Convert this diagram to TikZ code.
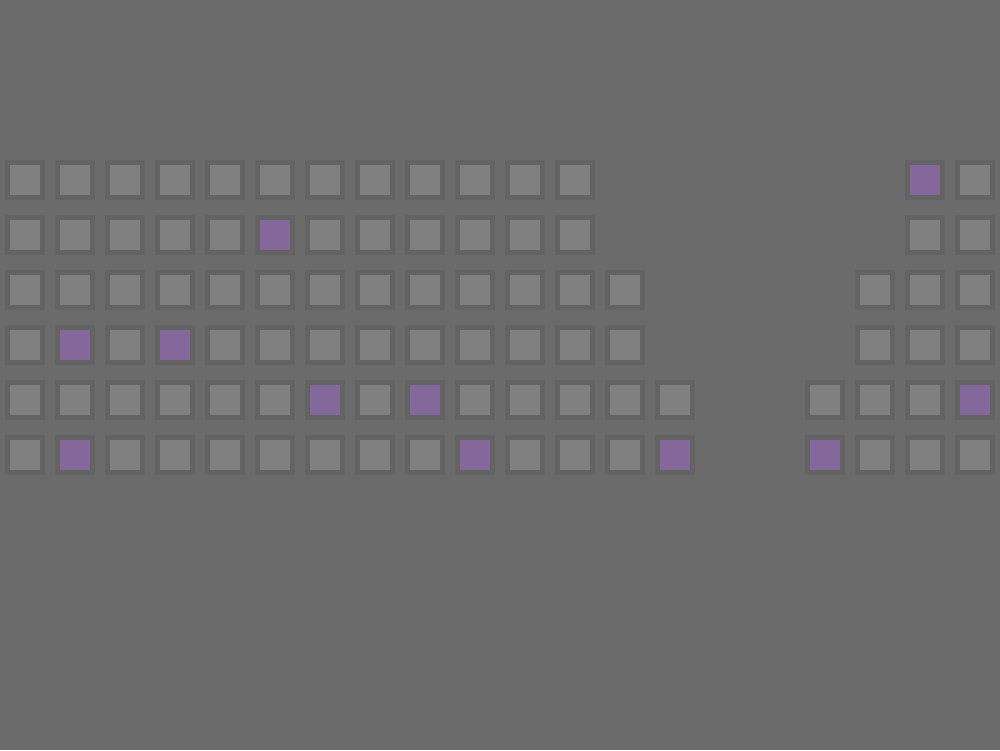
\documentclass[tikz,border=0pt]{standalone}
\definecolor{bg}{HTML}{6B6B6B}
\definecolor{cellborder}{HTML}{636363}
\definecolor{cellfill}{HTML}{808080}
\definecolor{cellmark}{HTML}{84689C}
\tikzset{
  cell/.style={draw=cellborder, fill=cellfill, line width=2.5pt, minimum size=17.5pt, inner sep=0pt, outer sep=0pt, shape=rectangle},
  markcell/.style={cell, fill=cellmark}
}
\begin{document}
\begin{tikzpicture}[x=0.5pt,y=-0.5pt]
\fill[bg] (0,0) rectangle (1000,750);
\useasboundingbox (0,0) rectangle (1000,750);
% row r: list of columns, list of marked columns
\foreach \r/\cols/\marks in {
  1/{0,1,2,3,4,5,6,7,8,9,10,11,18,19}/{18},
  2/{0,1,2,3,4,5,6,7,8,9,10,11,18,19}/{5},
  3/{0,1,2,3,4,5,6,7,8,9,10,11,12,17,18,19}/{},
  4/{0,1,2,3,4,5,6,7,8,9,10,11,12,17,18,19}/{1,3},
  5/{0,1,2,3,4,5,6,7,8,9,10,11,12,13,16,17,18,19}/{6,8,19},
  6/{0,1,2,3,4,5,6,7,8,9,10,11,12,13,16,17,18,19}/{1,9,13,16}}{
  \foreach \c in \cols {
    \def\sty{cell}
    \foreach \m in \marks {\ifnum\m=\c\relax\global\def\sty{markcell}\fi}
    \node[\sty] (c-\r-\c) at ({25+50*\c},{125+55*\r}) {};
  }
}
\end{tikzpicture}
\end{document}
